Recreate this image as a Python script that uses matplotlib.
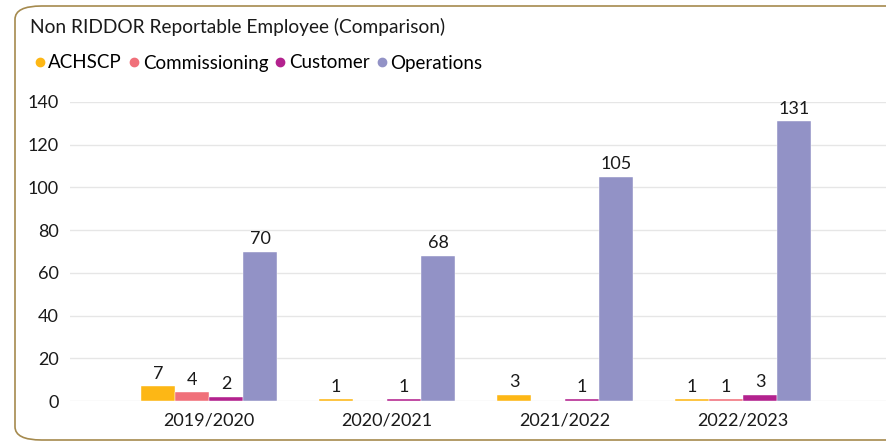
import matplotlib.pyplot as plt
import numpy as np
from matplotlib.patches import FancyBboxPatch

# data
years = ['2019/2020', '2020/2021', '2021/2022', '2022/2023']
series = ['ACHSCP', 'Commissioning', 'Customer', 'Operations']
achscp = [7, 1, 3, 1]
commissioning = [4, 0, 0, 1]
customer = [2, 1, 1, 3]
operations = [70, 68, 105, 131]
colors = ['#FDB715', '#F0707A', '#B3228E', '#9292C6']

plt.rcParams['font.family'] = ['Lato', 'DejaVu Sans']

fig = plt.figure(figsize=(8.87, 4.42), dpi=100)
fig.patch.set_facecolor('white')

# card border with rounded corners
card = FancyBboxPatch((15 / 887, 2 / 442), 1.2, 434 / 442,
                      boxstyle='round,pad=0,rounding_size=0.03',
                      transform=fig.transFigure, facecolor='white',
                      edgecolor='#A58A4E', linewidth=1.2, zorder=-5)
fig.patches.append(card)

ax = fig.add_axes([70 / 887, 41 / 442, 1 - 70 / 887, 299 / 442])
ax.set_facecolor('none')
ax.set_zorder(2)

x = np.arange(len(years))
width = 34 / 178
values = [achscp, commissioning, customer, operations]
for k, (name, vals, col) in enumerate(zip(series, values, colors)):
    offs = (k - 1.5) * width
    bars = ax.bar(x + offs, vals, width, color=col, label=name, zorder=3,
                  edgecolor='white', linewidth=0.3)
    for xi, v in zip(x + offs, vals):
        if v > 0:
            ax.text(xi, v + 2, str(v), ha='center', va='bottom',
                    fontsize=13, color='#1a1a1a')

ax.set_ylim(0, 140)
ax.set_xlim((70 - 209) / 178, (887 - 209) / 178)
ax.set_yticks(range(0, 141, 20))
ax.set_xticks(x)
ax.set_xticklabels(years)
ax.grid(axis='y', color='#E6E6E6', linewidth=1, zorder=0)
for s in ax.spines.values():
    s.set_visible(False)
ax.tick_params(length=0, labelsize=13, colors='#1a1a1a')
ax.tick_params(axis='y', pad=8)
ax.tick_params(axis='x', pad=8)

fig.text(30 / 887, 1 - 27 / 442, 'Non RIDDOR Reportable Employee (Comparison)',
         fontsize=13.8, va='center', ha='left', color='#1a1a1a')

# legend drawn as markers and labels
handles = [plt.Line2D([], [], marker='o', linestyle='', color=c, markersize=6)
           for c in colors]
fig.legend(handles, series, loc='center left',
           bbox_to_anchor=(24 / 887, 1 - 63 / 442), ncol=4, frameon=False,
           fontsize=13.5, handletextpad=0.0, columnspacing=0.2,
           handlelength=0.9, borderaxespad=0)

fig.savefig('out.png', dpi=100)
